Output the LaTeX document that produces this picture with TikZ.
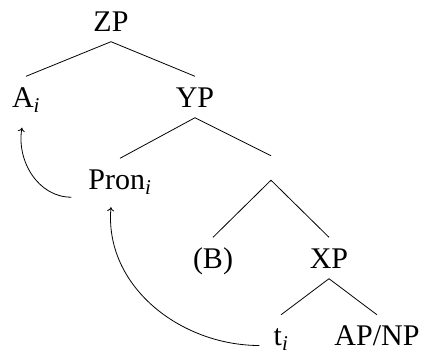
\documentclass[tikz,border=0pt]{standalone}
\usepackage{fontspec}
\setmainfont{Liberation Serif}
\usetikzlibrary{arrows.meta}
\tikzset{
  lbl/.style={anchor=base, inner xsep=0pt, inner ysep=10.5pt, text height=20pt, text depth=0pt,
    font=\fontsize{30}{36}\selectfont},
  branch/.style={line width=0.8pt},
  mv/.style={line width=0.8pt, -{To[length=4pt,width=7pt]}},
}
\begin{document}
\begin{tikzpicture}[x=1pt,y=-1pt]
\useasboundingbox (0,0) rectangle (424,354);
\node[lbl] (zp) at (111,31) {ZP};
\node[lbl] (a) at (26,107) {A\textsubscript{\textit{i}}};
\node[lbl] (yp) at (195,107) {YP};
\node[lbl] (pron) at (120,189) {Pron\textsubscript{\textit{i}}};
\node[inner sep=0pt, minimum size=24pt] (e) at (271,168) {};
\node[lbl] (b) at (213,268) {(B)};
\node[lbl] (xp) at (329,268) {XP};
\node[lbl] (t) at (281,345.5) {t\textsubscript{\textit{i}}};
\node[lbl] (apnp) at (377,345.5) {AP/NP};
\draw[branch] (zp.south) -- (a.north);
\draw[branch] (zp.south) -- (yp.north);
\draw[branch] (yp.south) -- (pron.north);
\draw[branch] (yp.south) -- (e.north);
\draw[branch] (e.south) -- (b.north);
\draw[branch] (e.south) -- (xp.north);
\draw[branch] (xp.south) -- (t.north);
\draw[branch] (xp.south) -- (apnp.north);
\draw[mv] ([xshift=-17pt,yshift=2.5pt]pron.south west) to[out=180,in=-100] ([xshift=-4pt,yshift=-10pt]a.south);
\draw[mv] ([xshift=-14pt]t.base west) to[out=180,in=-95] ([xshift=-9pt,yshift=-7.5pt]pron.south);
\end{tikzpicture}
\end{document}
